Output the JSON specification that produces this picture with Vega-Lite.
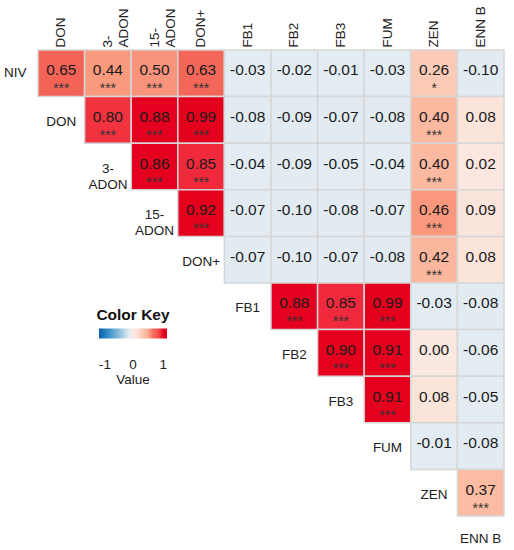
{
  "$schema": "https://vega.github.io/schema/vega-lite/v6.json",
  "autosize": "none",
  "width": 466,
  "height": 466,
  "padding": {"left": 38, "top": 50, "right": 10, "bottom": 34},
  "config": {
    "font": "Liberation Sans",
    "view": {"stroke": null},
    "locale": {"number": {"decimal": ".", "thousands": ",", "grouping": [3], "currency": ["$", ""], "minus": "-"}}
  },
  "datasets": {
    "cells": [
      {"row": "NIV", "col": "DON", "r": 0.65, "sig": "***"},
      {"row": "NIV", "col": "3-ADON", "r": 0.44, "sig": "***"},
      {"row": "NIV", "col": "15-ADON", "r": 0.50, "sig": "***"},
      {"row": "NIV", "col": "DON+", "r": 0.63, "sig": "***"},
      {"row": "NIV", "col": "FB1", "r": -0.03, "sig": ""},
      {"row": "NIV", "col": "FB2", "r": -0.02, "sig": ""},
      {"row": "NIV", "col": "FB3", "r": -0.01, "sig": ""},
      {"row": "NIV", "col": "FUM", "r": -0.03, "sig": ""},
      {"row": "NIV", "col": "ZEN", "r": 0.26, "sig": "*"},
      {"row": "NIV", "col": "ENN B", "r": -0.10, "sig": ""},
      {"row": "DON", "col": "3-ADON", "r": 0.80, "sig": "***"},
      {"row": "DON", "col": "15-ADON", "r": 0.88, "sig": "***"},
      {"row": "DON", "col": "DON+", "r": 0.99, "sig": "***"},
      {"row": "DON", "col": "FB1", "r": -0.08, "sig": ""},
      {"row": "DON", "col": "FB2", "r": -0.09, "sig": ""},
      {"row": "DON", "col": "FB3", "r": -0.07, "sig": ""},
      {"row": "DON", "col": "FUM", "r": -0.08, "sig": ""},
      {"row": "DON", "col": "ZEN", "r": 0.40, "sig": "***"},
      {"row": "DON", "col": "ENN B", "r": 0.08, "sig": ""},
      {"row": "3-ADON", "col": "15-ADON", "r": 0.86, "sig": "***"},
      {"row": "3-ADON", "col": "DON+", "r": 0.85, "sig": "***"},
      {"row": "3-ADON", "col": "FB1", "r": -0.04, "sig": ""},
      {"row": "3-ADON", "col": "FB2", "r": -0.09, "sig": ""},
      {"row": "3-ADON", "col": "FB3", "r": -0.05, "sig": ""},
      {"row": "3-ADON", "col": "FUM", "r": -0.04, "sig": ""},
      {"row": "3-ADON", "col": "ZEN", "r": 0.40, "sig": "***"},
      {"row": "3-ADON", "col": "ENN B", "r": 0.02, "sig": ""},
      {"row": "15-ADON", "col": "DON+", "r": 0.92, "sig": "***"},
      {"row": "15-ADON", "col": "FB1", "r": -0.07, "sig": ""},
      {"row": "15-ADON", "col": "FB2", "r": -0.10, "sig": ""},
      {"row": "15-ADON", "col": "FB3", "r": -0.08, "sig": ""},
      {"row": "15-ADON", "col": "FUM", "r": -0.07, "sig": ""},
      {"row": "15-ADON", "col": "ZEN", "r": 0.46, "sig": "***"},
      {"row": "15-ADON", "col": "ENN B", "r": 0.09, "sig": ""},
      {"row": "DON+", "col": "FB1", "r": -0.07, "sig": ""},
      {"row": "DON+", "col": "FB2", "r": -0.10, "sig": ""},
      {"row": "DON+", "col": "FB3", "r": -0.07, "sig": ""},
      {"row": "DON+", "col": "FUM", "r": -0.08, "sig": ""},
      {"row": "DON+", "col": "ZEN", "r": 0.42, "sig": "***"},
      {"row": "DON+", "col": "ENN B", "r": 0.08, "sig": ""},
      {"row": "FB1", "col": "FB2", "r": 0.88, "sig": "***"},
      {"row": "FB1", "col": "FB3", "r": 0.85, "sig": "***"},
      {"row": "FB1", "col": "FUM", "r": 0.99, "sig": "***"},
      {"row": "FB1", "col": "ZEN", "r": -0.03, "sig": ""},
      {"row": "FB1", "col": "ENN B", "r": -0.08, "sig": ""},
      {"row": "FB2", "col": "FB3", "r": 0.90, "sig": "***"},
      {"row": "FB2", "col": "FUM", "r": 0.91, "sig": "***"},
      {"row": "FB2", "col": "ZEN", "r": 0.00, "sig": ""},
      {"row": "FB2", "col": "ENN B", "r": -0.06, "sig": ""},
      {"row": "FB3", "col": "FUM", "r": 0.91, "sig": "***"},
      {"row": "FB3", "col": "ZEN", "r": 0.08, "sig": ""},
      {"row": "FB3", "col": "ENN B", "r": -0.05, "sig": ""},
      {"row": "FUM", "col": "ZEN", "r": -0.01, "sig": ""},
      {"row": "FUM", "col": "ENN B", "r": -0.08, "sig": ""},
      {"row": "ZEN", "col": "ENN B", "r": 0.37, "sig": "***"}
    ],
    "diag": [
      {"name": "DON", "txt": "DON"},
      {"name": "3-ADON", "txt": "3-\nADON"},
      {"name": "15-ADON", "txt": "15-\nADON"},
      {"name": "DON+", "txt": "DON+"},
      {"name": "FB1", "txt": "FB1"},
      {"name": "FB2", "txt": "FB2"},
      {"name": "FB3", "txt": "FB3"},
      {"name": "FUM", "txt": "FUM"},
      {"name": "ZEN", "txt": "ZEN"}
    ]
  },
  "layer": [
    {
      "data": {"name": "cells"},
      "mark": {"type": "rect", "stroke": "#d6d6d6", "strokeWidth": 1.5},
      "encoding": {
        "x": {
          "field": "col", "type": "nominal",
          "scale": {"domain": ["DON", "3-ADON", "15-ADON", "DON+", "FB1", "FB2", "FB3", "FUM", "ZEN", "ENN B"], "paddingInner": 0, "paddingOuter": 0},
          "axis": {
            "orient": "top", "title": null, "labelAngle": -90, "labelFontSize": 13.5, "labelPadding": 3,
            "ticks": false, "tickSize": 0, "domain": false, "labelOverlap": false, "labelLineHeight": 16,
            "labelColor": "#222",
            "labelExpr": "datum.value == '3-ADON' ? ['3-', 'ADON'] : datum.value == '15-ADON' ? ['15-', 'ADON'] : datum.value"
          }
        },
        "y": {
          "field": "row", "type": "nominal",
          "scale": {"domain": ["NIV", "DON", "3-ADON", "15-ADON", "DON+", "FB1", "FB2", "FB3", "FUM", "ZEN"], "paddingInner": 0, "paddingOuter": 0},
          "axis": {
            "title": null, "labelFontSize": 13.5, "labelPadding": 12, "ticks": false, "tickSize": 0,
            "domain": false, "labelOverlap": false, "labelColor": "#222",
            "labelExpr": "datum.value == 'NIV' ? 'NIV' : ''"
          }
        },
        "color": {
          "field": "r", "type": "quantitative",
          "scale": {
            "domain": [-1, -0.75, -0.5, -0.25, -0.125, -0.0001, 0, 0.1, 0.2, 0.3, 0.43, 0.435, 0.55, 0.6, 0.7, 0.8, 0.855, 0.86, 1],
            "range": ["#0b61ad", "#2f8ac4", "#74b2d7", "#b7d5e8", "#e2ebf2", "#e3ecf2", "#fbe8e0", "#fbe4da", "#fcd5c6", "#fcc4ad", "#fbb69c", "#f99a7e", "#f8907a", "#f46b5c", "#f25c52", "#f0333f", "#f0283c", "#e6001f", "#e4001c"]
          },
          "legend": {
            "orient": "none", "legendX": 58, "legendY": 258, "direction": "horizontal",
            "gradientLength": 68, "gradientThickness": 10, "gradientStrokeWidth": 0,
            "title": "Color Key", "titleFontSize": 15.5, "titleFontWeight": "bold", "titleColor": "#111",
            "titleAnchor": "middle", "titlePadding": 5,
            "values": [-1, 0, 1], "labelFontSize": 13.5, "labelOffset": 19, "labelAlign": "center", "labelColor": "#222",
            "labelExpr": "datum.value == 0 ? ['0', 'Value'] : datum.value < 0 ? '-1' : '1'"
          }
        }
      }
    },
    {
      "data": {"name": "cells"},
      "mark": {"type": "text", "fontSize": 15.5, "dy": -3, "color": "#1a1a1a"},
      "encoding": {
        "x": {"field": "col", "type": "nominal", "axis": null},
        "y": {"field": "row", "type": "nominal", "axis": null},
        "text": {"field": "r", "type": "quantitative", "format": ".2f"}
      }
    },
    {
      "data": {"name": "cells"},
      "mark": {"type": "text", "fontSize": 14, "dy": 16, "color": "#333"},
      "encoding": {
        "x": {"field": "col", "type": "nominal", "axis": null},
        "y": {"field": "row", "type": "nominal", "axis": null},
        "text": {"field": "sig", "type": "nominal"}
      }
    },
    {
      "data": {"name": "diag"},
      "mark": {"type": "text", "fontSize": 13.5, "dy": 2, "color": "#222", "lineBreak": "\n", "lineHeight": 16},
      "encoding": {
        "x": {
          "field": "name", "type": "nominal",
          "axis": {
            "orient": "bottom", "title": null, "labelAngle": 0, "labelFontSize": 13.5, "labelPadding": 15,
            "ticks": false, "tickSize": 0, "domain": false, "labelOverlap": false, "labelColor": "#222",
            "labelExpr": "datum.value == 'ENN B' ? 'ENN B' : ''"
          }
        },
        "y": {"field": "name", "type": "nominal", "axis": null},
        "text": {"field": "txt", "type": "nominal"}
      }
    }
  ],
  "resolve": {"axis": {"x": "independent", "y": "independent"}}
}
